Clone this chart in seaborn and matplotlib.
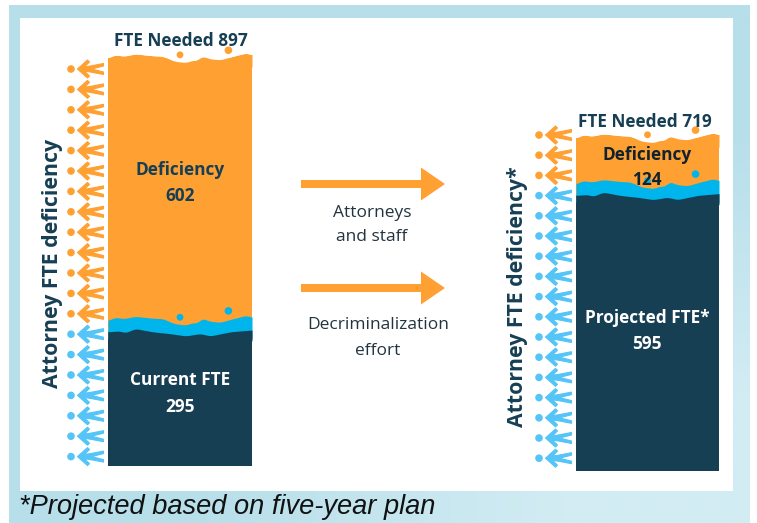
import numpy as np
import matplotlib
matplotlib.use('Agg')
import matplotlib.pyplot as plt
from matplotlib.colors import to_rgb
from matplotlib.patches import Rectangle, FancyArrow
from matplotlib.path import Path
import seaborn as sns

# ---- data ----
groups = ['Current', 'Projected']
fte_needed = [897, 719]
fte_have = [295, 595]
deficiency = [602, 124]
have_labels = ['Current FTE', 'Projected FTE*']
people_orange = [13, 3]
people_blue = [7, 14]

# edge shapes, in FTE units, across the bar width
top_wave_x = [0, .05, .11, .19, .31, .38, .46, .54, .6, .62, .65, .71, .78, .87, .96, 1]
top_wave_y = [0, 7, 4, 9, 5, 4, -7, -10, -4, -7, 5, -2, -4, 4, 11, 7]
low_wave_x = [0, .08, .12, .19, .31, .43, .54, .64, .71, .85, 1]
low_wave_y = [0, 2, -2, 7, 0, -4, -9, -4, -9, 0, 4]

orange = '#FFA033'
navy = '#173F54'
cyan = '#00B5EB'
person_blue = '#55C4F7'
frame_blue = '#B7DFEA'
frame_light = '#D2ECF3'

W, H = 757, 523
sns.set_theme(style='white')
plt.rcParams['font.family'] = ['Open Sans', 'DejaVu Sans']

fig = plt.figure(figsize=(W / 100, H / 100), dpi=100, facecolor='white')


def px_axes(zorder):
    a = fig.add_axes([0, 0, 1, 1], zorder=zorder)
    a.axis('off')
    a.patch.set_alpha(0)
    return a


bg = px_axes(0)
top = px_axes(5)

# frame fades a bit lighter toward the lower right corner
frame = np.array([[to_rgb(frame_blue), to_rgb(frame_blue)],
                  [to_rgb(frame_blue), to_rgb(frame_light)]])
bg.imshow(frame, extent=(9, 750, 523, 5), aspect='auto', interpolation='bilinear')
bg.add_patch(Rectangle((20, 18), 713, 473, color='white', lw=0))
for a in (bg, top):
    a.set_xlim(0, W)
    a.set_ylim(H, 0)


def soften(xs, ys):
    # round off the corners of a hand read edge
    grid = np.linspace(0, 1, 145)
    vals = np.interp(grid, xs, ys)
    pad = np.pad(vals, 3, mode='edge')
    return grid - .5, np.convolve(pad, np.ones(7) / 7, mode='valid')


def draw_bar(i, left, right, y_top, y_bottom):
    ax = fig.add_axes([left / W, 1 - (y_bottom + 20) / H, (right - left) / W,
                       (y_bottom - y_top + 40) / H], zorder=2)
    ax.patch.set_alpha(0)
    sns.barplot(x=[groups[i]], y=[fte_needed[i]], color=orange, width=1, saturation=1, linewidth=0, ax=ax)
    sns.barplot(x=[groups[i]], y=[fte_have[i]], color=navy, width=1, saturation=1, linewidth=0, ax=ax)
    for p in ax.patches:
        p.set_snap(False)
    unit = fte_needed[i] / (y_bottom - y_top)
    ax.set_xlim(-.5, .5)
    ax.set_ylim(-20 * unit, fte_needed[i] + 20 * unit)
    ax.axis('off')

    tx, ty = soften(top_wave_x, top_wave_y)
    lx, ly = soften(low_wave_x, low_wave_y)
    need = fte_needed[i]
    have = fte_have[i]
    # white above the wavy top, with the two loose drops
    ax.fill_between(tx, need - 20, need + ty, color=orange, lw=0, zorder=3)
    ax.fill_between(tx, need + ty, need + 60, color='white', lw=0, zorder=3)
    ax.scatter([.0, .336], [need + 7, need + 17], s=[24, 30], color=orange, lw=0, zorder=4)
    # cyan band and dark wavy edge
    ax.fill_between(tx, have - 15, have + 25 + ty, color=cyan, lw=0, zorder=3)
    ax.fill_between(lx, have - 20, have + ly, color=navy, lw=0, zorder=3)
    ax.scatter([.0, .336], [have + 32, have + 46], s=[24, 30], color=cyan, lw=0, zorder=4)
    return ax


draw_bar(0, 108, 252, 58, 466)
draw_bar(1, 576, 719, 138, 471)

# little people down the side of each bar
body = Path([(0, 0), (10, 9), (12, 7), (7, 2.2), (13, 3), (26, 5.5), (26, 3), (14, 0),
             (26, -3), (26, -5.5), (13, -3), (7, -2.2), (12, -7), (10, -9), (0, 0)], closed=True)


def draw_people(head_x, y0, step, n_orange, n_blue):
    ys = y0 + step * np.arange(n_orange + n_blue)
    colors = [orange] * n_orange + [person_blue] * n_blue
    bg.scatter([head_x] * len(ys), ys, s=30, c=colors, lw=0)
    bg.scatter([head_x + 6.5] * len(ys), ys, s=1400, marker=body, c=colors, edgecolors=colors, lw=.8)


draw_people(71, 69, 20.4, people_orange[0], people_blue[0])
draw_people(539, 135, 20.2, people_orange[1], people_blue[1])

# arrows in the middle
for y in (184, 288):
    bg.add_patch(FancyArrow(301, y, 144, 0, width=8, head_width=33, head_length=24,
                            length_includes_head=True, color=orange, lw=0))


def label(x, y, s, size=12.4, color=navy, weight='bold', **kw):
    top.text(x, y, s, ha='center', va='center', fontsize=size, color=color, fontweight=weight, **kw)


label(181, 41, f'FTE Needed {fte_needed[0]}')
label(180, 170, 'Deficiency')
label(180, 196, str(deficiency[0]))
label(180, 380, have_labels[0], color='white')
label(180, 407, str(fte_have[0]), color='white')
label(53, 263, 'Attorney FTE deficiency', size=15.3, rotation=90)

label(645, 122, f'FTE Needed {fte_needed[1]}')
label(647, 155, 'Deficiency', color='#10232E')
label(647, 180, str(deficiency[1]), color='#10232E')
label(647, 318, have_labels[1], color='white')
label(647, 344, str(fte_have[1]), color='white')
label(518, 297, 'Attorney FTE deficiency*', size=15.3, rotation=90)

label(372, 213, 'Attorneys', size=12.5, color='#22343F', weight='normal')
label(372, 237, 'and staff', size=12.5, color='#22343F', weight='normal')
label(378, 325, 'Decriminalization', size=12.5, color='#22343F', weight='normal')
label(378, 351, 'effort', size=12.5, color='#22343F', weight='normal')

top.text(19, 507, '*Projected based on five-year plan', ha='left', va='center', fontsize=19.6,
         style='italic', color='#111111', family='Liberation Sans')

fig.savefig('out.png', dpi=100)
